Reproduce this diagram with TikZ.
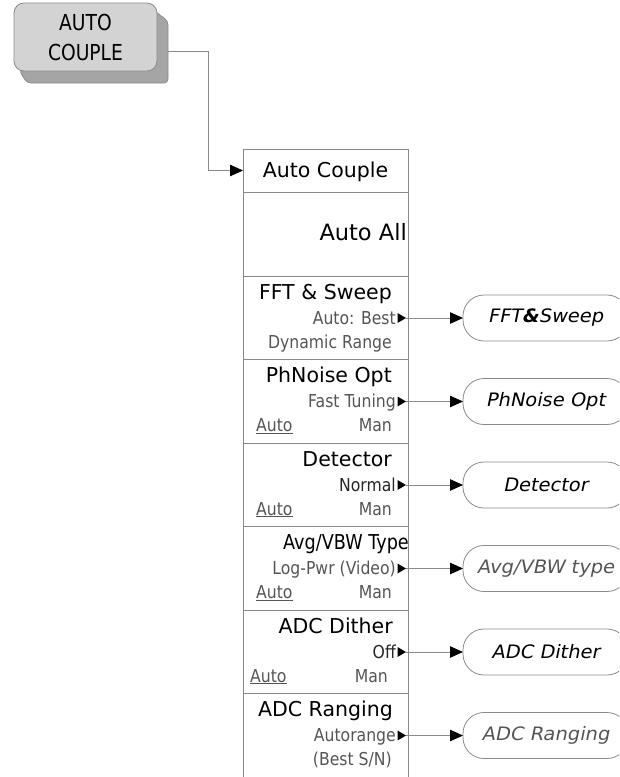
\documentclass[tikz,border=0pt]{standalone}
\usepackage{fontspec}
\setmainfont{DejaVu Sans}
\newfontfamily\subfont[FakeStretch=0.88]{DejaVu Sans}
\newfontfamily\keyfont[FakeStretch=0.85]{DejaVu Sans}
\newfontfamily\narrowfont[FakeStretch=0.86]{DejaVu Sans}
\newfontfamily\boxfont[FakeStretch=1.05,FakeSlant=0.2]{DejaVu Sans}
\usetikzlibrary{arrows.meta}
\definecolor{linec}{HTML}{8A8A8A}
\definecolor{subc}{HTML}{555555}
\definecolor{keyc}{HTML}{D3D3D3}
\definecolor{shadc}{HTML}{A5A5A5}
\begin{document}
\begin{tikzpicture}[x=1pt,y=-1pt,
  sect/.style={draw=linec, line width=0.8pt, minimum width=165pt, anchor=north west, inner sep=0pt, outer sep=0pt},
  softkey/.style={draw=linec, line width=0.8pt, rounded corners=21pt, minimum width=165pt, minimum height=46pt, anchor=west, inner sep=0pt, outer sep=0pt, font=\boxfont\fontsize{18.5}{20}\selectfont},
  ttl/.style={anchor=base east, inner sep=0pt, font=\fontsize{20.5}{24}\selectfont},
  sub/.style={anchor=base east, inner sep=0pt, text=subc, font=\subfont\fontsize{17.8}{20}\selectfont},
  subl/.style={anchor=base west, inner sep=0pt, text=subc, font=\subfont\fontsize{17.8}{20}\selectfont},
  conn/.style={draw=linec, line width=0.8pt, -{Triangle[length=13pt,width=11.5pt,color=black]}},
]
\useasboundingbox (0,0) rectangle (619,777);
\clip (0,0) rectangle (619,777);

% hardkey
\filldraw[fill=shadc, draw=linec, line width=0.8pt, rounded corners=4pt]
  (148,6) -- (168,21) -- (168,83) -- (27,83) -- (19,70) -- cycle;
\node[draw=linec, fill=keyc, line width=0.8pt, rounded corners=10pt,
  minimum width=143pt, minimum height=68pt, inner sep=0pt, outer sep=0pt,
  align=center, font=\keyfont\fontsize{22}{30}\selectfont] (key) at (85.5,37) {AUTO\\COUPLE};
\coordinate (k1) at (168,51);

% menu column
\node[sect, minimum height=43pt] (hdr) at (243,149) {};
\node[anchor=base, inner sep=0pt, font=\fontsize{20.5}{24}\selectfont] (hdrt) at (325.5,177) {Auto Couple};
\draw[conn] (k1) -- (208,51) |- (hdr.west);

\node[sect, minimum height=84pt] (all) at (243,192) {};
\node[anchor=base east, inner sep=0pt, font=\fontsize{22.5}{26}\selectfont] (allt) at (407,240) {Auto All};

\node[sect, minimum height=83.5pt] (s1) at (243,276) {};
\node[sect, minimum height=83.5pt] (s2) at (243,359.5) {};
\node[sect, minimum height=83.5pt] (s3) at (243,443) {};
\node[sect, minimum height=83.5pt] (s4) at (243,526.5) {};
\node[sect, minimum height=83.5pt] (s5) at (243,610) {};
\node[sect, minimum height=110pt] (s6) at (243,693.5) {};

% FFT & Sweep
\node[ttl] (t1) at (392,299) {FFT \& Sweep};
\node[sub] (a1) at (396,324) {Auto: Best};
\node[sub] (b1) at (392,348) {Dynamic Range};
% PhNoise
\node[ttl] (t2) at (392,382.5) {PhNoise Opt};
\node[sub] (a2) at (396,407.5) {Fast Tuning};
\node[subl] (u2) at (256,431.5) {\underline{Auto}};
\node[sub] (m2) at (392,431.5) {Man};
% Detector
\node[ttl] (t3) at (392,466) {Detector};
\node[sub, text=black!85] (a3) at (396,491) {Normal};
\node[subl] (u3) at (256,515) {\underline{Auto}};
\node[sub] (m3) at (392,515) {Man};
% Avg/VBW
\node[ttl, font=\narrowfont\fontsize{20.5}{24}\selectfont] (t4) at (409,549.5) {Avg/VBW Type};
\node[sub] (a4) at (396,574.5) {Log-Pwr (Video)};
\node[subl] (u4) at (256,598.5) {\underline{Auto}};
\node[sub] (m4) at (392,598.5) {Man};
% ADC Dither
\node[ttl] (t5) at (393,633) {ADC Dither};
\node[sub, text=black!85] (a5) at (396,658) {Off};
\node[subl] (u5) at (250,682) {\underline{Auto}};
\node[sub] (m5) at (388,682) {Man};
% ADC Ranging
\node[ttl] (t6) at (393,716.5) {ADC Ranging};
\node[sub] (a6) at (396,741.5) {Autorange};
\node[sub] (b6) at (392,765.5) {(Best S/N)};

% soft keys
\node[softkey] (f1) at (463,318) {FFT\textbf{\&}Sweep};
\node[softkey] (f2) at (463,401.5) {PhNoise Opt};
\node[softkey] (f3) at (463,485) {Detector};
\node[softkey, text=subc] (f4) at (463,568.5) {Avg/VBW type};
\node[softkey] (f5) at (463,652) {ADC Dither};
\node[softkey, text=subc] (f6) at (463,735.5) {ADC Ranging};

% markers and connectors
\foreach \i/\yy in {1/318, 2/401.5, 3/485, 4/568.5, 5/652, 6/735.5}{
  \fill (397.5,\yy-5) -- (406,\yy) -- (397.5,\yy+5) -- cycle;
  \coordinate (m\i) at (406,\yy);
  \draw[conn] (m\i) -- (f\i.west);
}
\end{tikzpicture}
\end{document}
